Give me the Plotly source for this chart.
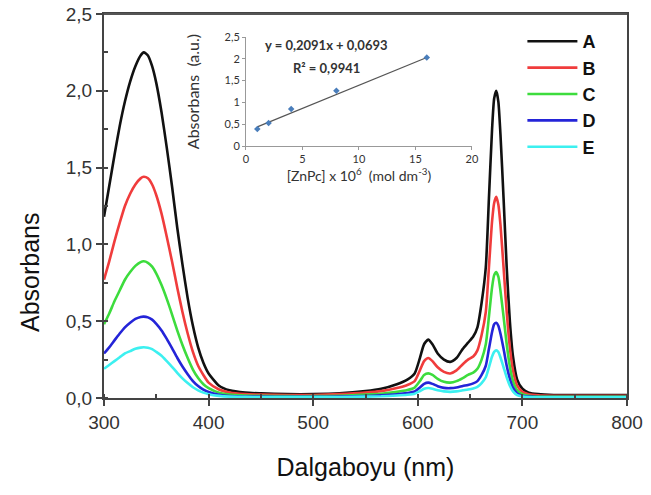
import plotly.graph_objects as go

# ---------------- data ----------------
wavelength = [300, 305, 310, 315, 320, 325, 330, 335, 338, 342, 346, 350, 355, 360, 365, 370, 375, 380,
              385, 390, 395, 400, 410, 420, 435, 450, 475, 500, 525, 550, 565, 580, 590, 597, 602, 606,
              610, 614, 619, 625, 631, 637, 643, 648, 653, 657, 661, 665, 668, 671, 673, 675, 677, 679,
              682, 685, 688, 691, 695, 700, 706, 715, 730, 760, 800]

abs_A = [1.18, 1.38, 1.58, 1.77, 1.93, 2.06, 2.16, 2.23, 2.25, 2.23, 2.16, 2.05, 1.86, 1.63, 1.38, 1.11, 0.87, 0.65,
         0.47, 0.33, 0.23, 0.16, 0.08, 0.05, 0.035, 0.03, 0.025, 0.025, 0.03, 0.045, 0.06, 0.09, 0.12, 0.16, 0.26, 0.35,
         0.38, 0.35, 0.29, 0.25, 0.235, 0.26, 0.32, 0.36, 0.40, 0.46, 0.62, 0.85, 1.30, 1.75, 1.95, 2.00, 1.93, 1.72,
         1.30, 0.85, 0.50, 0.27, 0.12, 0.06, 0.035, 0.025, 0.02, 0.02, 0.02]

abs_B = [0.77, 0.89, 1.02, 1.14, 1.25, 1.33, 1.39, 1.43, 1.44, 1.43, 1.39, 1.32, 1.20, 1.05, 0.89, 0.72, 0.56, 0.42,
         0.30, 0.21, 0.15, 0.10, 0.055, 0.035, 0.025, 0.022, 0.02, 0.02, 0.025, 0.035, 0.045, 0.065, 0.085, 0.11, 0.18, 0.24,
         0.26, 0.24, 0.20, 0.17, 0.16, 0.18, 0.22, 0.25, 0.27, 0.31, 0.41, 0.56, 0.85, 1.15, 1.27, 1.31, 1.26, 1.13,
         0.85, 0.56, 0.33, 0.18, 0.08, 0.04, 0.025, 0.018, 0.015, 0.015, 0.015]

abs_C = [0.48, 0.55, 0.63, 0.70, 0.77, 0.82, 0.86, 0.885, 0.89, 0.88, 0.855, 0.81, 0.735, 0.645, 0.545, 0.44, 0.345, 0.26,
         0.185, 0.13, 0.09, 0.065, 0.035, 0.022, 0.016, 0.014, 0.012, 0.012, 0.015, 0.022, 0.028, 0.04, 0.052, 0.068, 0.11, 0.15,
         0.16, 0.15, 0.125, 0.105, 0.10, 0.11, 0.13, 0.15, 0.165, 0.19, 0.25, 0.35, 0.53, 0.72, 0.80, 0.82, 0.79, 0.70,
         0.53, 0.35, 0.205, 0.11, 0.05, 0.025, 0.015, 0.01, 0.01, 0.01, 0.01]

abs_D = [0.29, 0.33, 0.375, 0.42, 0.46, 0.49, 0.515, 0.528, 0.53, 0.525, 0.51, 0.483, 0.44, 0.385, 0.325, 0.262, 0.205, 0.155,
         0.11, 0.078, 0.055, 0.039, 0.021, 0.013, 0.01, 0.009, 0.008, 0.008, 0.009, 0.013, 0.017, 0.024, 0.032, 0.042, 0.068, 0.092,
         0.10, 0.092, 0.077, 0.066, 0.064, 0.068, 0.078, 0.085, 0.095, 0.11, 0.15, 0.21, 0.32, 0.43, 0.48, 0.49, 0.47, 0.42,
         0.32, 0.21, 0.125, 0.068, 0.03, 0.015, 0.009, 0.006, 0.006, 0.006, 0.006]

abs_E = [0.19, 0.215, 0.24, 0.265, 0.29, 0.305, 0.32, 0.328, 0.33, 0.327, 0.318, 0.30, 0.275, 0.24, 0.203, 0.164, 0.128, 0.097,
         0.07, 0.05, 0.035, 0.025, 0.014, 0.009, 0.007, 0.006, 0.006, 0.006, 0.006, 0.009, 0.011, 0.016, 0.021, 0.028, 0.045, 0.06,
         0.065, 0.06, 0.05, 0.043, 0.04, 0.043, 0.05, 0.055, 0.062, 0.072, 0.097, 0.135, 0.20, 0.27, 0.30, 0.31, 0.30, 0.265,
         0.20, 0.135, 0.08, 0.043, 0.019, 0.01, 0.006, 0.004, 0.004, 0.004, 0.004]

series_names = ["A", "B", "C", "D", "E"]
series_colors = ["#111111", "#f03c3c", "#3ddc3d", "#2424d8", "#3cf0f0"]

x_tickvals = [300, 400, 500, 600, 700, 800]
x_ticktext = ["300", "400", "500", "600", "700", "800"]
y_tickvals = [0, 0.5, 1.0, 1.5, 2.0, 2.5]
y_ticktext = ["0,0", "0,5", "1,0", "1,5", "2,0", "2,5"]

# inset calibration data
conc = [1, 2, 4, 8, 16]
abs_cal = [0.39, 0.53, 0.85, 1.27, 2.03]
trend_x = [1, 16]
trend_y = [0.44, 2.03]
inset_xtickvals = [0, 5, 10, 15, 20]
inset_xticktext = ["0", "5", "10", "15", "20"]
inset_ytickvals = [0, 0.5, 1, 1.5, 2, 2.5]
inset_yticktext = ["0", "0,5", "1", "1,5", "2", "2,5"]

# ---------------- figure ----------------
fig = go.Figure()
for name, vals, col in zip(series_names, [abs_A, abs_B, abs_C, abs_D, abs_E], series_colors):
    fig.add_trace(go.Scatter(x=wavelength, y=vals, name=name, mode="lines",
                             line=dict(color=col, width=2.6, shape="spline", smoothing=0.6)))

fig.add_trace(go.Scatter(x=trend_x, y=trend_y, mode="lines", xaxis="x2", yaxis="y2",
                         line=dict(color="#555555", width=1.2), showlegend=False))
fig.add_trace(go.Scatter(x=conc, y=abs_cal, mode="markers", xaxis="x2", yaxis="y2",
                         marker=dict(color="#4a7ebb", size=5, symbol="diamond"), showlegend=False))

axis_font = dict(family="Liberation Sans, Arial", size=19, color="#333333")
inset_font = dict(family="Lato, Open Sans", size=11, color="#333333")
fig.update_layout(
    width=651, height=495,
    margin=dict(l=104, r=24, t=14, b=97, autoexpand=False),
    plot_bgcolor="white", paper_bgcolor="white",
    xaxis=dict(range=[300, 800], tickvals=x_tickvals, ticktext=x_ticktext, automargin=False,
               showgrid=False, zeroline=False, showline=True, linecolor="#444444", linewidth=2,
               mirror=True, ticks="outside", ticklen=6, tickwidth=1.5, tickcolor="#444444",
               ticklabeloverflow="allow",
               minor=dict(ticks="inside", dtick=50, ticklen=4, tickcolor="#444444", showgrid=False),
               tickfont=axis_font,
               title=dict(text="Dalgaboyu (nm)", font=dict(family="Liberation Sans, Arial", size=25, color="#111111"),
                          standoff=27)),
    yaxis=dict(range=[0, 2.5], tickvals=y_tickvals, ticktext=y_ticktext, automargin=False,
               showgrid=False, zeroline=False, showline=True, linecolor="#444444", linewidth=2,
               mirror=True, ticks="outside", ticklen=6, tickwidth=1.5, tickcolor="#444444",
               ticklabeloverflow="allow",
               minor=dict(ticks="inside", dtick=0.25, ticklen=4, tickcolor="#444444", showgrid=False),
               tickfont=axis_font),
    xaxis2=dict(domain=[0.2715, 0.7036], anchor="y2", range=[0, 20], tickvals=inset_xtickvals,
                ticktext=inset_xticktext, showgrid=False, zeroline=False, showline=True, automargin=False,
                linecolor="#999999", linewidth=1, ticks="outside", ticklen=3, tickcolor="#999999",
                tickfont=inset_font,
                title=dict(text="[ZnPc] x 10<sup>6</sup>  (mol dm<sup>-3</sup>)",
                           font=dict(family="Lato, Open Sans", size=14, color="#333333"), standoff=2)),
    yaxis2=dict(domain=[0.65625, 0.940], anchor="x2", range=[0, 2.5], tickvals=inset_ytickvals,
                ticktext=inset_yticktext, showgrid=False, zeroline=False, showline=True, automargin=False,
                linecolor="#999999", linewidth=1, ticks="outside", ticklen=3, tickcolor="#999999",
                tickfont=inset_font,
                title=dict(text="Absorbans  (a.u.)", font=dict(family="Lato, Open Sans", size=16, color="#333333"),
                           standoff=20)),
    legend=dict(x=0.80, y=0.9766, xanchor="left", yanchor="top", bgcolor="rgba(0,0,0,0)",
                font=dict(family="Liberation Sans, Arial", size=18, color="#111111", weight="bold"),
                itemwidth=50, tracegroupgap=0),
    shapes=[
        dict(type="line", xref="paper", yref="paper", x0=0, x1=1, y0=1, y1=1,
             line=dict(color="#555555", width=2), layer="above"),
    ],
    annotations=[
        dict(x=-0.1415, y=0.328, xref="paper", yref="paper", text="Absorbans", textangle=-90, showarrow=False,
             xanchor="center", yanchor="middle", font=dict(family="Liberation Sans, Arial", size=25, color="#111111")),
        dict(x=7.1, y=2.32, xref="x2", yref="y2", text="<b>y = 0,2091x + 0,0693</b>", showarrow=False,
             xanchor="center", yanchor="middle", font=dict(family="Lato, Open Sans", size=13, color="#333333")),
        dict(x=7.1, y=1.79, xref="x2", yref="y2", text="<b>R² = 0,9941</b>", showarrow=False,
             xanchor="center", yanchor="middle", font=dict(family="Lato, Open Sans", size=13, color="#333333")),
    ],
    showlegend=True,
)

fig.write_html("out.html", config={"displayModeBar": False},
               post_script="document.body.style.margin='0';document.body.style.overflow='hidden';")
